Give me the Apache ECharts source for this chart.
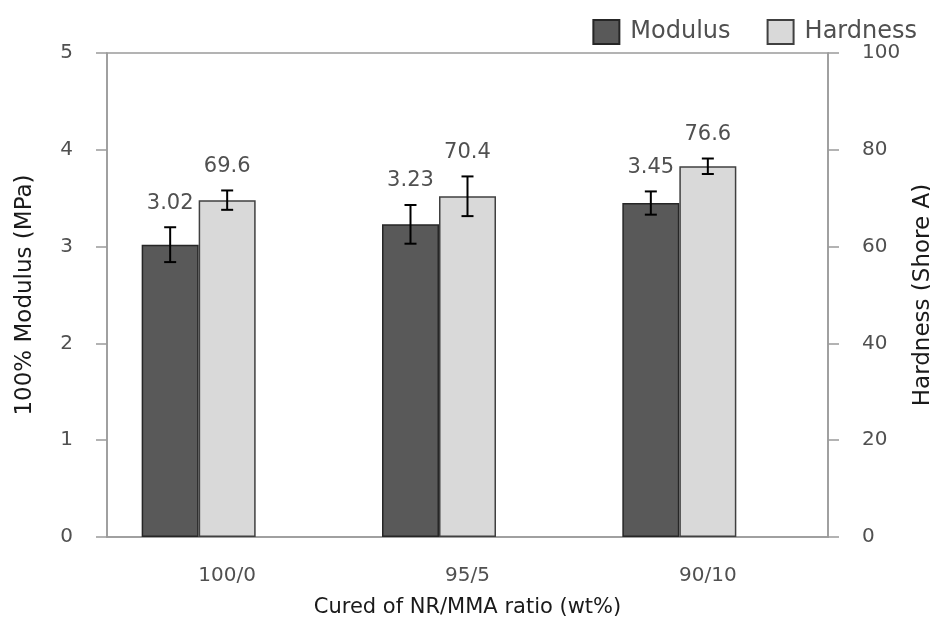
<!DOCTYPE html>
<html>
<head>
<meta charset="utf-8">
<script src="https://cdn.jsdelivr.net/npm/echarts@6/dist/echarts.min.js"></script>
<style>
  html, body { margin: 0; padding: 0; background: #fff; }
  #chart { width: 930px; height: 620px; }
</style>
</head>
<body>
<div id="chart"></div>
<script>
// Mix ratios of natural rubber / methyl methacrylate
const categories = ['100/0', '95/5', '90/10'];

// 100% modulus (MPa) with standard deviation
const modulus = [3.02, 3.23, 3.45];
const modulusErr = [0.18, 0.20, 0.12];

// Shore A hardness with standard deviation
const hardness = [69.6, 70.4, 76.6];
const hardnessErr = [2.0, 4.1, 1.6];

// Axis ticks
const modulusTicks = [0, 1, 2, 3, 4, 5];
const hardnessTicks = [0, 20, 40, 60, 80, 100];

const FONT = 'DejaVu Sans';
const BAR_W = 57;
const AXIS_COLOR = '#9a9a9a';
const LABEL_COLOR = '#505050';

const chart = echarts.init(document.getElementById('chart'));

// Error bar with value label above it; dx shifts from the category centre to the bar centre
function errorBarSeries(name, values, errs, yAxisIndex, dx) {
  return {
    type: 'custom',
    name: name + ' error',
    yAxisIndex: yAxisIndex,
    z: 10,
    data: values.map((v, i) => [i, v, errs[i]]),
    renderItem: function (params, api) {
      const i = api.value(0);
      const v = api.value(1);
      const e = api.value(2);
      const hi = api.coord([i, v + e]);
      const lo = api.coord([i, v - e]);
      const x = hi[0] + dx;
      const cap = 6;
      const style = { stroke: '#000', lineWidth: 2 };
      return {
        type: 'group',
        children: [
          { type: 'line', shape: { x1: x, y1: hi[1], x2: x, y2: lo[1] }, style: style },
          { type: 'line', shape: { x1: x - cap, y1: hi[1], x2: x + cap, y2: hi[1] }, style: style },
          { type: 'line', shape: { x1: x - cap, y1: lo[1], x2: x + cap, y2: lo[1] }, style: style },
          {
            type: 'text',
            x: x,
            y: hi[1] - 24,
            style: {
              text: v.toFixed(v < 10 ? 2 : 1),
              fill: LABEL_COLOR,
              font: '21px "' + FONT + '"',
              align: 'center',
              verticalAlign: 'middle'
            }
          }
        ]
      };
    }
  };
}

const option = {
  backgroundColor: '#fff',
  animation: false,
  textStyle: { fontFamily: FONT },
  legend: {
    data: ['Modulus', 'Hardness'],
    icon: 'rect',
    right: 8,
    top: 14,
    itemWidth: 26,
    itemHeight: 24,
    itemGap: 36,
    textStyle: { fontSize: 24, color: LABEL_COLOR, fontFamily: FONT, padding: [0, 0, 0, 6] }
  },
  grid: {
    left: 107,
    right: 102,
    top: 53,
    bottom: 83,
    show: true,
    borderColor: AXIS_COLOR,
    borderWidth: 1.5,
    containLabel: false,
    outerBoundsMode: 'none'
  },
  xAxis: {
    type: 'category',
    data: categories,
    name: 'Cured of NR/MMA ratio (wt%)',
    nameLocation: 'middle',
    nameGap: 60,
    nameTextStyle: { fontSize: 21, color: '#1a1a1a', fontFamily: FONT },
    axisLine: { lineStyle: { color: AXIS_COLOR, width: 1.5 } },
    axisTick: { alignWithLabel: true, length: 9, lineStyle: { color: AXIS_COLOR, width: 1.5 } },
    axisLabel: { fontSize: 20, color: LABEL_COLOR, margin: 29, fontFamily: FONT }
  },
  yAxis: [
    {
      type: 'value',
      min: modulusTicks[0],
      max: modulusTicks[modulusTicks.length - 1],
      interval: modulusTicks[1] - modulusTicks[0],
      name: '100% Modulus (MPa)',
      nameLocation: 'middle',
      nameGap: 70,
      nameRotate: 90,
      nameTextStyle: { fontSize: 23, color: '#1a1a1a', fontFamily: FONT },
      axisLine: { show: true, lineStyle: { color: AXIS_COLOR, width: 1.5 } },
      axisTick: { show: true, length: 11, lineStyle: { color: AXIS_COLOR, width: 1.5 } },
      axisLabel: { fontSize: 20, color: LABEL_COLOR, margin: 34, fontFamily: FONT },
      splitLine: { show: false }
    },
    {
      type: 'value',
      position: 'right',
      min: hardnessTicks[0],
      max: hardnessTicks[hardnessTicks.length - 1],
      interval: hardnessTicks[1] - hardnessTicks[0],
      name: 'Hardness (Shore A)',
      nameLocation: 'middle',
      nameGap: 78,
      nameRotate: 90,
      nameTextStyle: { fontSize: 23, color: '#1a1a1a', fontFamily: FONT },
      axisLine: { show: true, lineStyle: { color: AXIS_COLOR, width: 1.5 } },
      axisTick: { show: true, length: 11, lineStyle: { color: AXIS_COLOR, width: 1.5 } },
      axisLabel: { fontSize: 20, color: LABEL_COLOR, margin: 34, fontFamily: FONT },
      splitLine: { show: false }
    }
  ],
  series: [
    {
      name: 'Modulus',
      type: 'bar',
      yAxisIndex: 0,
      data: modulus,
      barWidth: BAR_W,
      barGap: '0%',
      itemStyle: { color: '#595959', borderColor: '#262626', borderWidth: 1.5 }
    },
    {
      name: 'Hardness',
      type: 'bar',
      yAxisIndex: 1,
      data: hardness,
      barWidth: BAR_W,
      barGap: '0%',
      itemStyle: { color: '#d9d9d9', borderColor: '#404040', borderWidth: 1.5 }
    },
    {
      // empty slot keeps the hardness bar centred on the category tick
      name: 'spacer',
      type: 'bar',
      yAxisIndex: 1,
      data: categories.map(() => '-'),
      barWidth: BAR_W,
      barGap: '0%',
      silent: true
    },
    errorBarSeries('Modulus', modulus, modulusErr, 0, -BAR_W),
    errorBarSeries('Hardness', hardness, hardnessErr, 1, 0)
  ]
};

chart.setOption(option);
</script>
</body>
</html>
